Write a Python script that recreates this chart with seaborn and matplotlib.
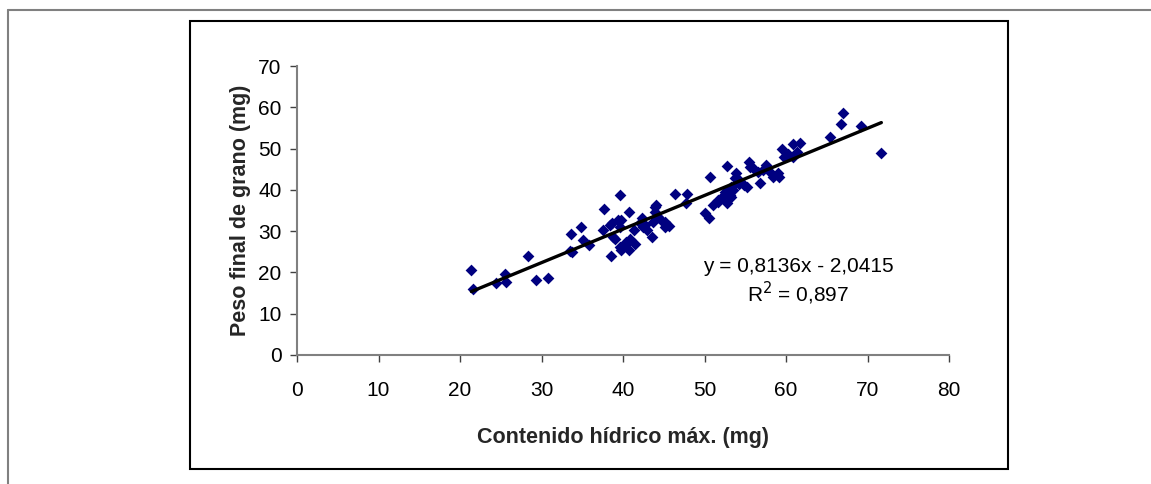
import matplotlib
matplotlib.use("Agg")
import matplotlib.pyplot as plt
import matplotlib.patches as mpatches
from matplotlib.lines import Line2D
import numpy as np
import pandas as pd
import seaborn as sns

# ---- data ----
contenido_hidrico = [
    21.4, 21.6, 24.4, 25.5, 25.7, 28.3, 29.3, 30.8, 33.6, 33.5, 33.8, 34.9,
    35.1, 35.8, 37.7, 37.6, 38.4, 38.6, 38.8, 39.0, 38.5, 39.6, 39.4, 39.8,
    39.6, 39.6, 39.8, 40.2, 40.4, 40.7, 40.7, 40.9, 40.9, 41.3, 41.5, 42.1,
    42.3, 42.5, 42.7, 42.9, 43.5, 43.7, 43.9, 43.9, 44.1, 44.3, 44.7, 45.2,
    45.2, 45.6, 46.4, 47.8, 47.7, 50.1, 50.5, 50.7, 51.1, 51.7, 52.1, 52.5,
    52.7, 52.8, 53.3, 53.5, 53.7, 53.9, 54.2, 54.8, 55.2, 55.4, 55.6, 56.0,
    56.6, 56.8, 57.6, 58.2, 58.4, 59.2, 59.5, 59.7, 60.3, 60.9, 61.3, 61.7,
    65.4, 66.7, 67.0, 69.2, 71.7, 51.7, 53.1, 53.3, 54.2, 57.2, 59.0, 60.9,
]
peso_final = [
    20.6, 16.1, 17.5, 19.6, 17.7, 24.0, 18.2, 18.6, 29.3, 25.2, 25.0, 30.9,
    27.8, 26.6, 35.4, 30.3, 31.5, 31.9, 28.6, 28.2, 24.0, 38.7, 32.7, 32.7,
    31.1, 26.2, 25.4, 27.0, 27.4, 25.4, 34.7, 27.8, 28.2, 30.3, 27.0, 31.9,
    33.1, 31.1, 31.5, 30.3, 28.6, 32.3, 35.9, 34.7, 36.3, 33.5, 32.7, 32.3,
    31.1, 31.2, 39.1, 39.1, 36.7, 34.3, 33.1, 43.2, 36.3, 37.5, 38.3, 39.5,
    36.7, 45.8, 38.3, 40.0, 42.8, 44.0, 41.5, 41.2, 40.8, 46.8, 45.6, 45.2,
    44.4, 41.6, 46.0, 44.0, 43.2, 43.2, 50.0, 48.0, 48.8, 51.2, 49.2, 51.4,
    52.7, 55.9, 58.7, 55.5, 49.0, 37.1, 38.7, 40.8, 42.4, 44.8, 44.0, 48.0,
]
pendiente = 0.8136
intercepto = -2.0415
r2 = 0.897
x_ticks = [0, 10, 20, 30, 40, 50, 60, 70, 80]
y_ticks = [0, 10, 20, 30, 40, 50, 60, 70]

df = pd.DataFrame({"x": contenido_hidrico, "y": peso_final})
x_line = np.array([min(contenido_hidrico), max(contenido_hidrico)])
df_line = pd.DataFrame({"x": x_line, "y": pendiente * x_line + intercepto})

sns.set_theme(style="white")
plt.rcParams["font.family"] = ["Liberation Sans", "DejaVu Sans"]

W, H = 1151, 484
fig = plt.figure(figsize=(W / 100, H / 100), dpi=100)
fig.patch.set_facecolor("white")

# outer frames
fig.add_artist(Line2D([8 / W, 1.0], [1 - 10 / H, 1 - 10 / H], color="#808080", lw=1.5,
                      transform=fig.transFigure))
fig.add_artist(Line2D([8 / W, 8 / W], [1 - 10 / H, 0.0], color="#808080", lw=1.5,
                      transform=fig.transFigure))
fig.add_artist(mpatches.Rectangle((190 / W, 1 - 469 / H), (1008 - 190) / W, (469 - 21) / H,
                                  fill=False, edgecolor="black", lw=1.5,
                                  transform=fig.transFigure))

ax = fig.add_axes([297 / W, 1 - 355 / H, (949 - 297) / W, (355 - 66) / H])
ax.set_facecolor("white")

sns.scatterplot(data=df, x="x", y="y", marker="D", color="#000080", s=36,
                linewidth=0, ax=ax, zorder=3)
sns.lineplot(data=df_line, x="x", y="y", color="black", lw=2.4, ax=ax, zorder=4)

ax.set_xlim(0, 80)
ax.set_ylim(0, 70)
ax.set_xticks(x_ticks)
ax.set_yticks(y_ticks)
ax.set_xticklabels([str(t) for t in x_ticks])
ax.set_yticklabels([str(t) for t in y_ticks])

for side in ["top", "right"]:
    ax.spines[side].set_visible(False)
for side in ["left", "bottom"]:
    ax.spines[side].set_color("#808080")
    ax.spines[side].set_linewidth(1.5)

ax.tick_params(axis="both", which="major", direction="out", length=5, width=1,
               color="#404040", labelsize=15, labelcolor="black")
ax.tick_params(axis="x", pad=14, bottom=True)
ax.tick_params(axis="y", pad=6, left=True)

ax.set_xlabel("Contenido hídrico máx. (mg)", fontsize=15.5, fontweight="bold", labelpad=19)
ax.set_ylabel("Peso final de grano (mg)", fontsize=15.5, fontweight="bold", labelpad=5)

eq = f"y = {pendiente:.4f}x - {abs(intercepto):.4f}".replace(".", ",")
r2_txt = r"R$^2$ = " + f"{r2:.3f}".replace(".", ",")
ax.text(61.5, 21.5, eq, ha="center", va="center", fontsize=15, color="black")
ax.text(61.5, 14.9, r2_txt, ha="center", va="center", fontsize=15, color="black")

fig.savefig("out.png", dpi=100, facecolor="white")
